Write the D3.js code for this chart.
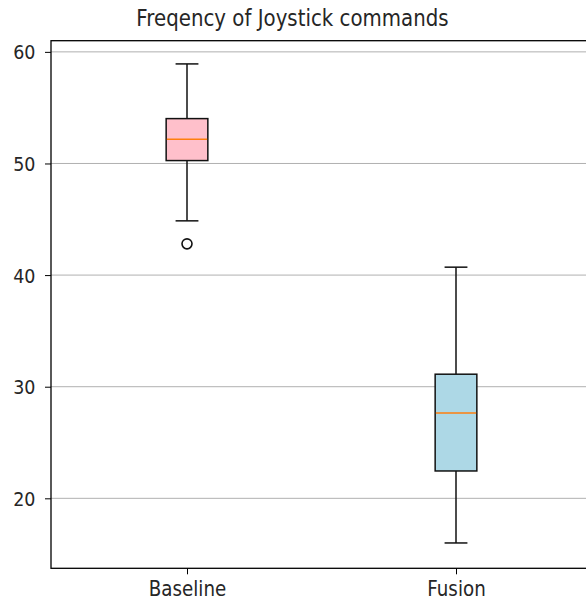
<!DOCTYPE html>
<html><head><meta charset="utf-8">
<script src="https://d3js.org/d3.v7.min.js"></script>
<style>body{margin:0;background:#fff;} svg{display:block;} text{font-family:"DejaVu Sans",sans-serif;fill:#262626;}</style>
</head><body><svg id="c" width="586" height="605"></svg>
<script>
const title = "Freqency of Joystick commands";
const categories = ["Baseline", "Fusion"];
const whiskerLow = [44.86, 16.0];
const q1 = [50.26, 22.45];
const median = [52.18, 27.65];
const q3 = [54.02, 31.12];
const whiskerHigh = [58.92, 40.71];
const fillColors = ["#ffc0cb", "#add8e6"];
const outliers = [[42.8], []];
const yTicks = [20, 30, 40, 50, 60];

const svg = d3.select("#c");
const L = 51, T = 40.7, B = 568.3, Rclip = 600;
const x = d3.scaleLinear().domain([1, 2]).range([187, 456]);
const y = d3.scaleLinear().domain([13.73, 61.0]).range([B, T]);
const boxW = x(1.155) - x(1);
const capW = boxW / 2 + 2;
const sy = 1.12;

// grid
svg.append("g").selectAll("line").data(yTicks).join("line")
  .attr("x1", L).attr("x2", Rclip).attr("y1", d => y(d)).attr("y2", d => y(d))
  .attr("stroke", "#b0b0b0").attr("stroke-width", 1);

// y axis
const yAxis = d3.axisLeft(y).tickValues(yTicks).tickSize(6).tickPadding(9.5);
const gy = svg.append("g").attr("transform", `translate(${L},0)`).call(yAxis);
gy.select(".domain").remove();
gy.selectAll(".tick line").attr("stroke", "#000").attr("stroke-width", 1);
gy.selectAll(".tick text").attr("font-size", 17.5).attr("font-family", "DejaVu Sans").attr("fill", "#262626")
  .attr("dy", null).attr("y", 7 / sy).attr("transform", `scale(1,${sy})`);

// x axis
const xAxis = d3.axisBottom(x).tickValues([1, 2]).tickFormat((d, i) => categories[i]).tickSize(6).tickPadding(5);
const gx = svg.append("g").attr("transform", `translate(0,${B})`).call(xAxis);
gx.select(".domain").remove();
gx.selectAll(".tick line").attr("stroke", "#000").attr("stroke-width", 1);
gx.selectAll(".tick text").attr("font-size", 18.3).attr("font-family", "DejaVu Sans").attr("fill", "#262626")
  .attr("dy", null).attr("y", 28 / sy).attr("transform", `scale(1,${sy})`);

// frame
svg.append("rect").attr("x", L).attr("y", T).attr("width", Rclip - L).attr("height", B - T)
  .attr("fill", "none").attr("stroke", "#000").attr("stroke-width", 1.3);

// boxes
const g = svg.append("g");
const lw = 1.5;
categories.forEach((c, i) => {
  const cx = x(i + 1);
  g.append("line").attr("x1", cx).attr("x2", cx).attr("y1", y(q3[i])).attr("y2", y(whiskerHigh[i])).attr("stroke", "#111").attr("stroke-width", lw);
  g.append("line").attr("x1", cx).attr("x2", cx).attr("y1", y(q1[i])).attr("y2", y(whiskerLow[i])).attr("stroke", "#111").attr("stroke-width", lw);
  g.append("line").attr("x1", cx - capW / 2).attr("x2", cx + capW / 2).attr("y1", y(whiskerHigh[i])).attr("y2", y(whiskerHigh[i])).attr("stroke", "#111").attr("stroke-width", lw);
  g.append("line").attr("x1", cx - capW / 2).attr("x2", cx + capW / 2).attr("y1", y(whiskerLow[i])).attr("y2", y(whiskerLow[i])).attr("stroke", "#111").attr("stroke-width", lw);
  g.append("rect").attr("x", cx - boxW / 2).attr("width", boxW).attr("y", y(q3[i])).attr("height", y(q1[i]) - y(q3[i]))
    .attr("fill", fillColors[i]).attr("stroke", "#111").attr("stroke-width", lw);
  g.append("line").attr("x1", cx - boxW / 2 + 0.7).attr("x2", cx + boxW / 2 - 0.7).attr("y1", y(median[i])).attr("y2", y(median[i])).attr("stroke", "#ff7f0e").attr("stroke-width", lw);
  outliers[i].forEach(v => {
    g.append("circle").attr("cx", cx).attr("cy", y(v)).attr("r", 5).attr("fill", "none").attr("stroke", "#111").attr("stroke-width", 1.6);
  });
});

svg.append("text").attr("x", 292.5).attr("y", 26.5).attr("text-anchor", "middle").attr("font-size", 19.8)
  .attr("transform", `translate(0,${26.5 - 26.5 * sy}) scale(1,${sy})`).text(title);
</script></body></html>
